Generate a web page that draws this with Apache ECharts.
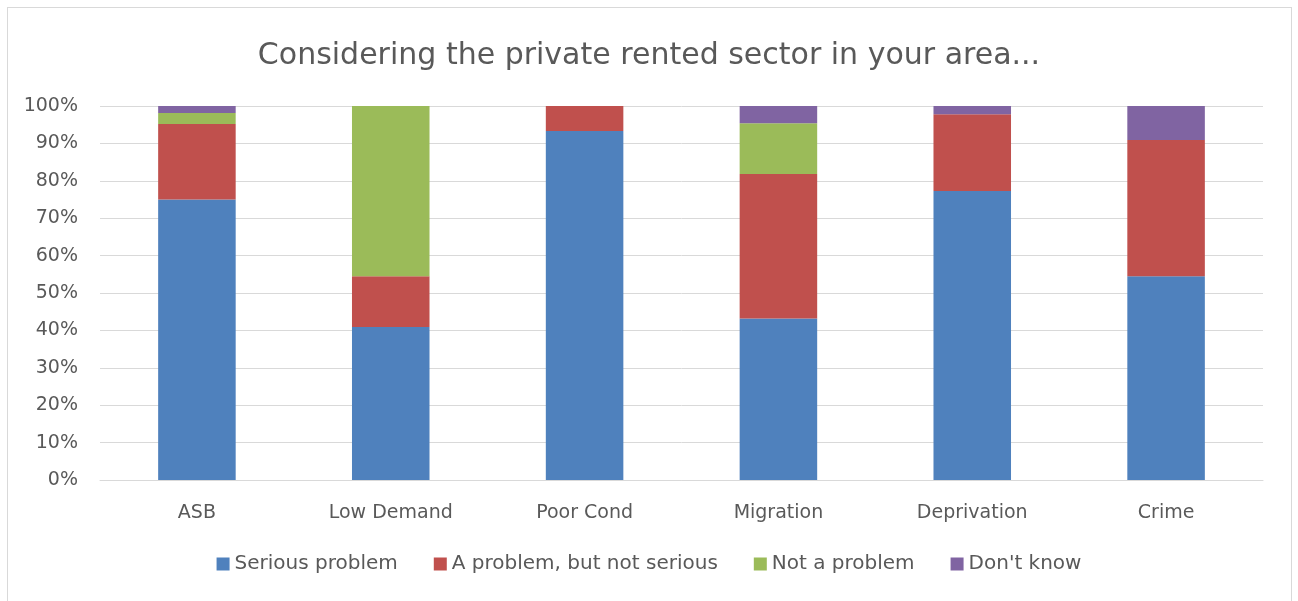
<!DOCTYPE html>
<html>
<head>
<meta charset="utf-8">
<script src="https://cdn.jsdelivr.net/npm/echarts@6/dist/echarts.min.js"></script>
<style>
  html, body { margin: 0; padding: 0; background: #ffffff; }
  #frame { position: absolute; left: 7px; top: 7px; width: 1285px; height: 600px; border: 1px solid #d9d9d9; box-sizing: border-box; }
  #chart { position: absolute; left: 0; top: 0; width: 1298px; height: 601px; }
</style>
</head>
<body>
<div id="frame"></div>
<div id="chart"></div>
<script>
// Survey categories
const categories = ['ASB', 'Low Demand', 'Poor Cond', 'Migration', 'Deprivation', 'Crime'];

// Share of responses (%) per answer
const serious    = [75.0, 40.9, 93.3, 43.2, 77.3, 54.5];
const notSerious = [20.2, 13.6, 6.7, 38.6, 20.5, 36.4];
const notProblem = [2.9, 45.5, 0, 13.6, 0, 0];
const dontKnow   = [1.9, 0, 0, 4.6, 2.2, 9.1];

const seriesNames = ['Serious problem', 'A problem, but not serious', 'Not a problem', "Don't know"];
const seriesData = [serious, notSerious, notProblem, dontKnow];
const colors = ['#4F81BD', '#C0504D', '#9BBB59', '#8064A2'];

const font = '"DejaVu Sans", "Noto Sans", sans-serif';
const chart = echarts.init(document.getElementById('chart'));

chart.setOption({
  animation: false,
  title: {
    text: 'Considering the private rented sector in your area...',
    left: 'center',
    top: 36,
    textStyle: { fontFamily: font, fontSize: 30, fontWeight: 'normal', color: '#595959' }
  },
  legend: {
    bottom: 22,
    left: 'center',
    itemWidth: 13,
    itemHeight: 13,
    itemGap: 36,
    icon: 'rect',
    textStyle: { fontFamily: font, fontSize: 20, color: '#595959' },
    data: seriesNames
  },
  grid: { left: 100, right: 35, top: 106, bottom: 121, containLabel: false },
  xAxis: {
    type: 'category',
    data: categories,
    axisLine: { lineStyle: { color: '#d9d9d9', width: 1 } },
    axisTick: { show: false },
    axisLabel: { fontFamily: font, fontSize: 19, color: '#595959', margin: 24 }
  },
  yAxis: {
    type: 'value',
    min: 0,
    max: 100,
    interval: 10,
    axisLine: { show: false },
    axisTick: { show: false },
    axisLabel: { fontFamily: font, fontSize: 19, color: '#595959', margin: 22, formatter: '{value}%' },
    splitLine: { lineStyle: { color: '#d9d9d9', width: 1 } }
  },
  series: seriesNames.map((name, i) => ({
    name: name,
    type: 'bar',
    stack: 'total',
    barWidth: '40%',
    data: seriesData[i],
    itemStyle: { color: colors[i] }
  }))
});
</script>
</body>
</html>
